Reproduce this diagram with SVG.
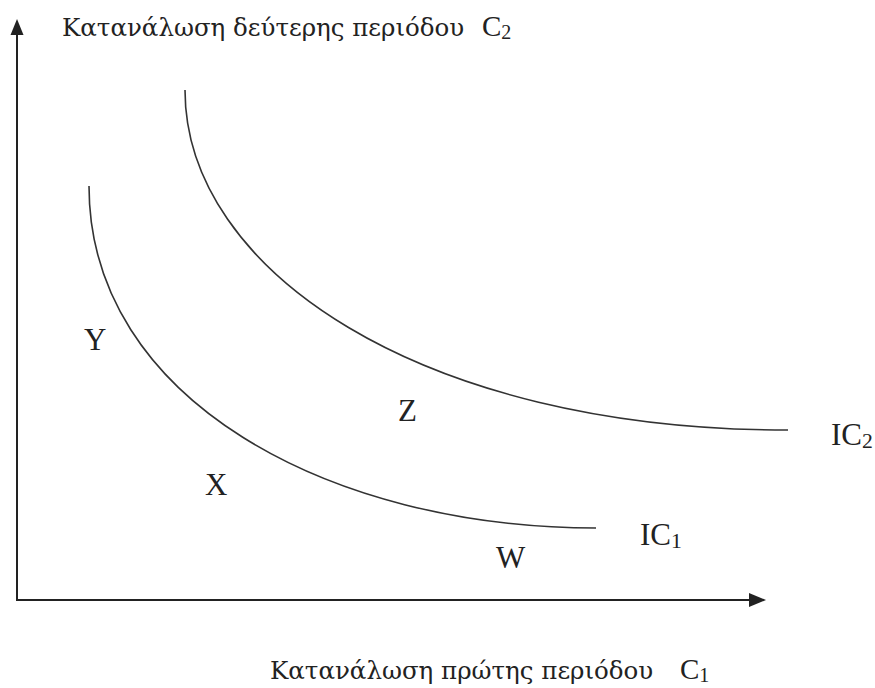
<svg xmlns="http://www.w3.org/2000/svg" width="875" height="688" viewBox="0 0 875 688">
  <style>
    .axis { stroke: #222; stroke-width: 2; fill: none; }
    .curve { stroke: #333; stroke-width: 1.6; fill: none; }
    .head { fill: #222; }
    .title { font-family: "Liberation Serif", "Times New Roman", serif; font-size: 29px; fill: #222; }
    .tsub { font-size: 20px; }
    .greek { font-family: "DejaVu Serif", "Liberation Serif", serif; font-size: 24.5px; fill: #222; }
    .lbl { font-family: "Liberation Serif", "Times New Roman", serif; font-size: 31px; fill: #222; }
    .sub { font-size: 70%; }
  </style>
  <rect width="875" height="688" fill="#fff"/>
  <g id="axes">
    <line class="axis" x1="17" y1="601" x2="17" y2="32"/>
    <polygon class="head" points="17,19 10.5,35 23.5,35"/>
    <line class="axis" x1="16" y1="600" x2="752" y2="600"/>
    <polygon class="head" points="766,600 749,593 749,607"/>
  </g>
  <g id="curves">
    <path id="IC1-curve" class="curve" d="M89,186 C89,400 330,528 596,528"/>
    <path id="IC2-curve" class="curve" d="M185,90 C185,270 420,430 788,430"/>
  </g>
  <g id="axis-titles">
    <g id="title-y">
      <text class="greek" x="62" y="36">Κατανάλωση δεύτερης περιόδου</text>
      <text class="title" x="482" y="36">C<tspan class="tsub" dy="3">2</tspan></text>
    </g>
    <g id="title-x">
      <text class="greek" x="270" y="679">Κατανάλωση πρώτης περιόδου</text>
      <text class="title" x="680" y="679">C<tspan class="tsub" dy="3">1</tspan></text>
    </g>
  </g>
  <g id="point-Y"><text class="lbl" x="84" y="350">Y</text></g>
  <g id="point-X"><text class="lbl" x="205" y="495">X</text></g>
  <g id="point-Z"><text class="lbl" x="398" y="421">Z</text></g>
  <g id="point-W"><text class="lbl" x="496" y="568">W</text></g>
  <g id="label-IC1"><text class="lbl" x="640" y="545">IC<tspan class="sub" dy="3">1</tspan></text></g>
  <g id="label-IC2"><text class="lbl" x="831" y="445">IC<tspan class="sub" dy="3">2</tspan></text></g>
</svg>
